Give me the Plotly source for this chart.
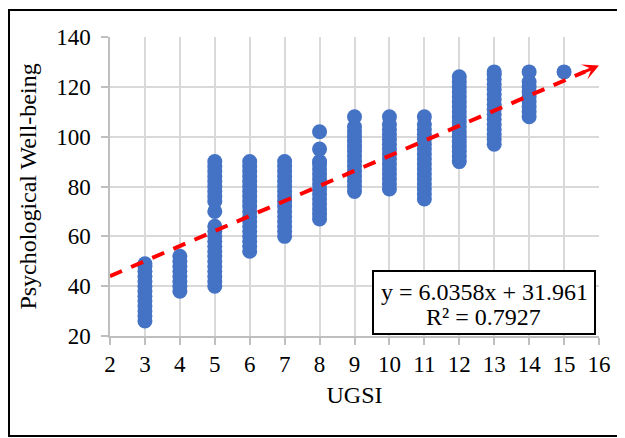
import plotly.graph_objects as go

# ---- data ----
ugsi_3 = [26, 28, 30, 32, 34, 36, 38, 40, 42, 44, 46, 48, 49]
ugsi_4 = [38, 40, 42, 44, 46, 48, 50, 52]
ugsi_5 = [40, 42, 44, 46, 48, 50, 52, 54, 56, 58, 60, 62, 64, 70, 74, 76, 78, 80, 82, 84, 86, 88, 90]
ugsi_6 = [54, 56, 58, 60, 62, 64, 66, 68, 70, 72, 74, 76, 78, 80, 82, 84, 86, 88, 90]
ugsi_7 = [60, 62, 64, 66, 68, 70, 72, 74, 76, 78, 80, 82, 84, 86, 88, 90]
ugsi_8 = [67, 69, 71, 73, 75, 77, 79, 81, 83, 85, 87, 89, 90, 95, 102]
ugsi_9 = [78, 80, 82, 84, 86, 88, 90, 92, 94, 96, 98, 100, 102, 104, 108]
ugsi_10 = [79, 81, 83, 85, 87, 89, 91, 93, 95, 97, 99, 101, 103, 105, 108]
ugsi_11 = [75, 77, 79, 81, 83, 85, 87, 89, 91, 93, 95, 97, 99, 101, 103, 105, 108]
ugsi_12 = [90, 92, 94, 96, 98, 100, 102, 104, 106, 108, 110, 112, 114, 116, 118, 120, 122, 124]
ugsi_13 = [97, 99, 101, 103, 105, 107, 109, 111, 113, 115, 117, 119, 121, 123, 125, 126]
ugsi_14 = [108, 110, 112, 114, 116, 118, 120, 122, 126]
ugsi_15 = [126]

columns = {3: ugsi_3, 4: ugsi_4, 5: ugsi_5, 6: ugsi_6, 7: ugsi_7, 8: ugsi_8, 9: ugsi_9,
           10: ugsi_10, 11: ugsi_11, 12: ugsi_12, 13: ugsi_13, 14: ugsi_14, 15: ugsi_15}

trend_slope = 6.0358
trend_intercept = 31.961
r_squared = 0.7927
trend_x = [2, 15.6]
arrow_x = [15.45, 16]

x_ticks = list(range(2, 17))
y_ticks = [20, 40, 60, 80, 100, 120, 140]

xs, ys = [], []
for k, vals in columns.items():
    xs += [k] * len(vals)
    ys += vals

trend_y = [trend_slope * v + trend_intercept for v in trend_x]
arrow_y = [trend_slope * v + trend_intercept for v in arrow_x]

FONT = "Liberation Serif"
fig = go.Figure()
fig.add_trace(go.Scatter(x=xs, y=ys, mode="markers",
                         marker=dict(size=15, color="#4472C4", line=dict(width=0)),
                         showlegend=False, hoverinfo="skip"))
fig.add_trace(go.Scatter(x=trend_x, y=trend_y, mode="lines",
                         line=dict(color="#FF0000", width=4, dash="13px,10px"),
                         showlegend=False, hoverinfo="skip"))

# arrow head at the end of the trend line
fig.add_annotation(x=arrow_x[1], y=arrow_y[1], ax=arrow_x[0], ay=arrow_y[0],
                   xref="x", yref="y", axref="x", ayref="y",
                   showarrow=True, arrowhead=3, arrowsize=0.9, arrowwidth=3,
                   arrowcolor="#FF0000", text="", standoff=0)

# plot area in figure pixels: left 102, top 29, 489 x 299
PL, PT, PW, PH = 102, 29, 489, 299


def px(fx):
    return (fx - PL) / PW


def py(fy):
    return (PT + PH - fy) / PH


# equation box
fig.add_shape(type="rect", xref="paper", yref="paper",
              x0=px(365), x1=px(587), y0=py(326), y1=py(263),
              line=dict(color="#000000", width=2), fillcolor="white", layer="above")
fig.add_annotation(xref="paper", yref="paper", x=px(476), y=py(284),
                   xanchor="center", yanchor="middle",
                   text=f"y = {trend_slope}x + {trend_intercept}", showarrow=False,
                   font=dict(family=FONT, size=24, color="#000000"))
fig.add_annotation(xref="paper", yref="paper", x=px(475), y=py(309),
                   xanchor="center", yanchor="middle",
                   text=f"R² = {r_squared}", showarrow=False,
                   font=dict(family=FONT, size=24, color="#000000"))

# outer chart border
fig.add_shape(type="rect", xref="paper", yref="paper",
              x0=px(1), x1=px(640), y0=py(428), y1=py(2),
              line=dict(color="#000000", width=2), layer="below")

axis_common = dict(showgrid=True, gridcolor="#D9D9D9", gridwidth=1.5,
                   showline=True, linecolor="#BFBFBF", linewidth=1.5,
                   ticks="outside", ticklen=7, tickcolor="#BFBFBF", tickwidth=1.5,
                   zeroline=False, mirror=False,
                   tickfont=dict(family=FONT, size=23, color="#000000"))

fig.update_xaxes(range=[2, 16], tickvals=x_ticks, ticklabelstandoff=0,
                 title=dict(text="UGSI", font=dict(family=FONT, size=24, color="#000000"),
                            standoff=10),
                 **axis_common)
fig.update_yaxes(range=[20, 140], tickvals=y_ticks, ticklabelstandoff=6,
                 title=dict(text="Psychological Well-being",
                            font=dict(family=FONT, size=24, color="#000000"),
                            standoff=13),
                 **axis_common)

fig.update_layout(width=617, height=430,
                  margin=dict(l=PL, r=617 - PL - PW, t=PT, b=430 - PT - PH, autoexpand=False),
                  paper_bgcolor="white", plot_bgcolor="white",
                  font=dict(family=FONT))

fig.write_html("out.html")
